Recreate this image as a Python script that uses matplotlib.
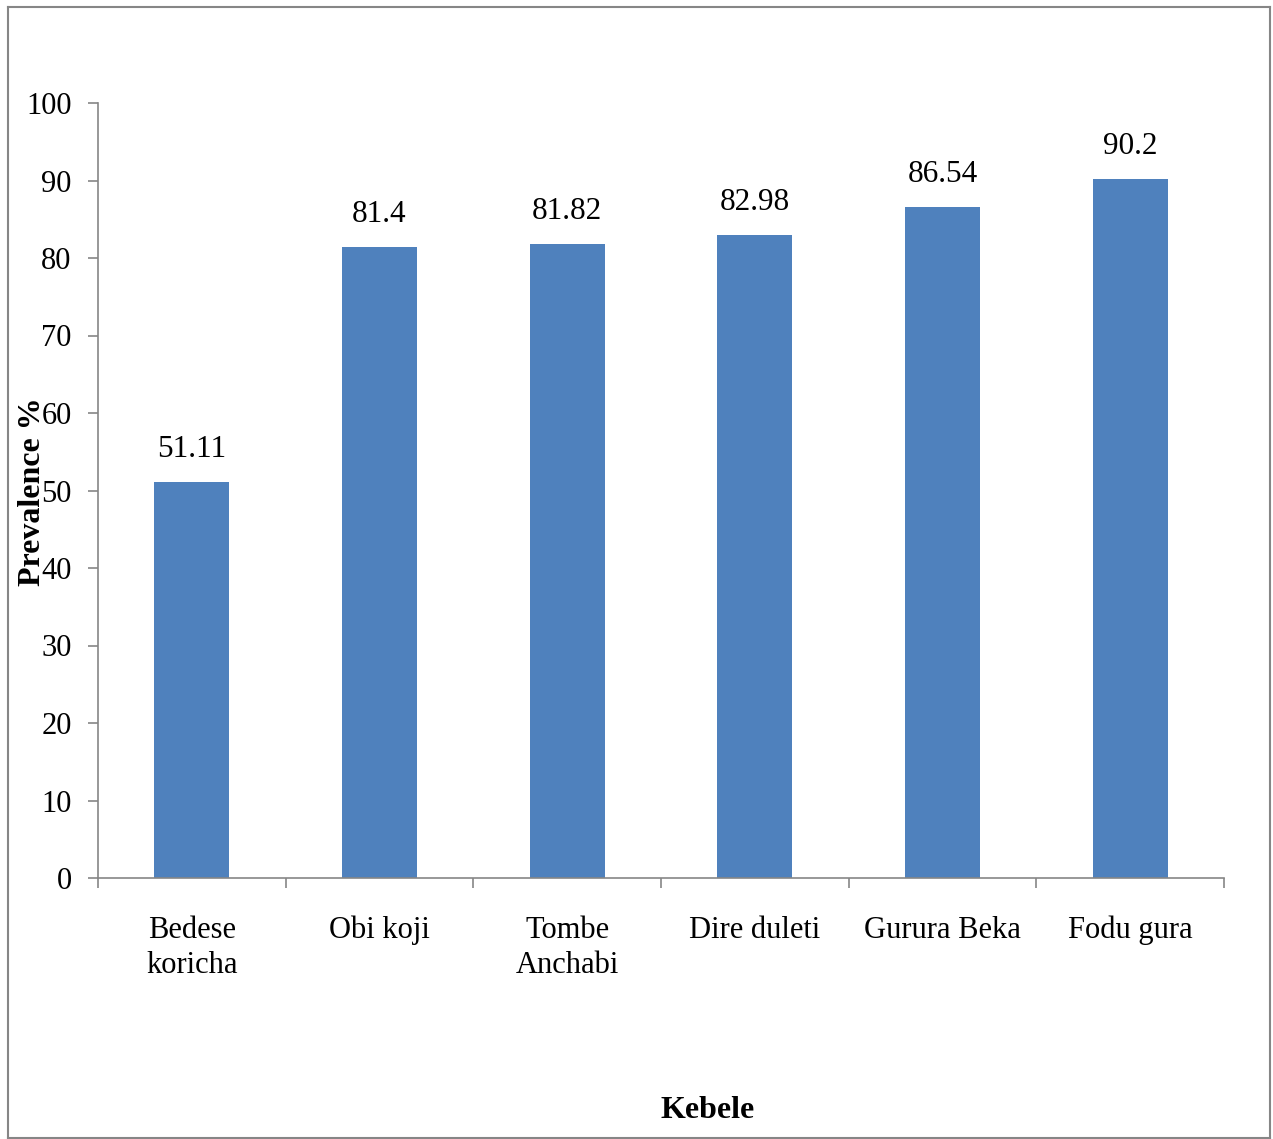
import matplotlib
matplotlib.use('Agg')
import matplotlib.pyplot as plt
import numpy as np
from matplotlib.lines import Line2D

# --- Data ---
kebeles = ["Bedese\nkoricha", "Obi koji", "Tombe\nAnchabi", "Dire duleti", "Gurura Beka", "Fodu gura"]
prevalence = [51.11, 81.4, 81.82, 82.98, 86.54, 90.2]
value_labels = ["51.11", "81.4", "81.82", "82.98", "86.54", "90.2"]
yticks = [0, 10, 20, 30, 40, 50, 60, 70, 80, 90, 100]

BAR_COLOR = "#4F81BD"
AXIS_COLOR = "#868686"

plt.rcParams.update({
    "font.family": ["Liberation Serif", "DejaVu Serif"],
    "font.size": 22,
})

W, H = 1273, 1139
fig = plt.figure(figsize=(W / 100, H / 100), dpi=100)
ax = fig.add_axes([98 / W, 1 - 878 / H, (1224 - 98) / W, (878 - 103) / H])

x = np.arange(len(kebeles))
ax.bar(x, prevalence, width=0.4, color=BAR_COLOR)

for xi, v, lab in zip(x, prevalence, value_labels):
    ax.annotate(lab, (xi, v), xytext=(0, 13), textcoords="offset points",
                ha="center", va="bottom", fontsize=22.5)

ax.set_xlim(-0.5, len(kebeles) - 0.5)
ax.set_ylim(0, 100)
ax.set_yticks(yticks)
ax.set_yticklabels([str(t) for t in yticks], fontsize=22)

# category boundaries as tick marks, names as minor ticks
ax.set_xticks(np.arange(len(kebeles) + 1) - 0.5)
ax.set_xticklabels([])
ax.set_xticks(x, minor=True)
ax.set_xticklabels(kebeles, minor=True, fontsize=22, linespacing=1.3)
ax.tick_params(axis="x", which="minor", length=0, pad=27)
ax.tick_params(axis="x", which="major", length=7, color=AXIS_COLOR, width=1.2)
ax.tick_params(axis="y", length=7, color=AXIS_COLOR, width=1.2, pad=12)

for s in ["top", "right"]:
    ax.spines[s].set_visible(False)
for s in ["left", "bottom"]:
    ax.spines[s].set_color(AXIS_COLOR)
    ax.spines[s].set_linewidth(1.2)

fig.text(33 / W, 1 - 492 / H, "Prevalence %", rotation=90, ha="center", va="center",
         fontsize=23, fontweight="bold")
fig.text(708 / W, 1 - 1110 / H, "Kebele", ha="center", va="center",
         fontsize=23, fontweight="bold")

# outer chart frame
x0, x1, y1 = 8 / W, 1270 / W, 1 - 7 / H
for xs, ys in [([x0, x0], [0, y1]), ([x0, x1], [y1, y1]), ([x1, x1], [y1, 0]),
               ([x0, x1], [1 / H, 1 / H])]:
    fig.add_artist(Line2D(xs, ys, transform=fig.transFigure, color=AXIS_COLOR, lw=1.5))

fig.savefig("out.png", dpi=100)
